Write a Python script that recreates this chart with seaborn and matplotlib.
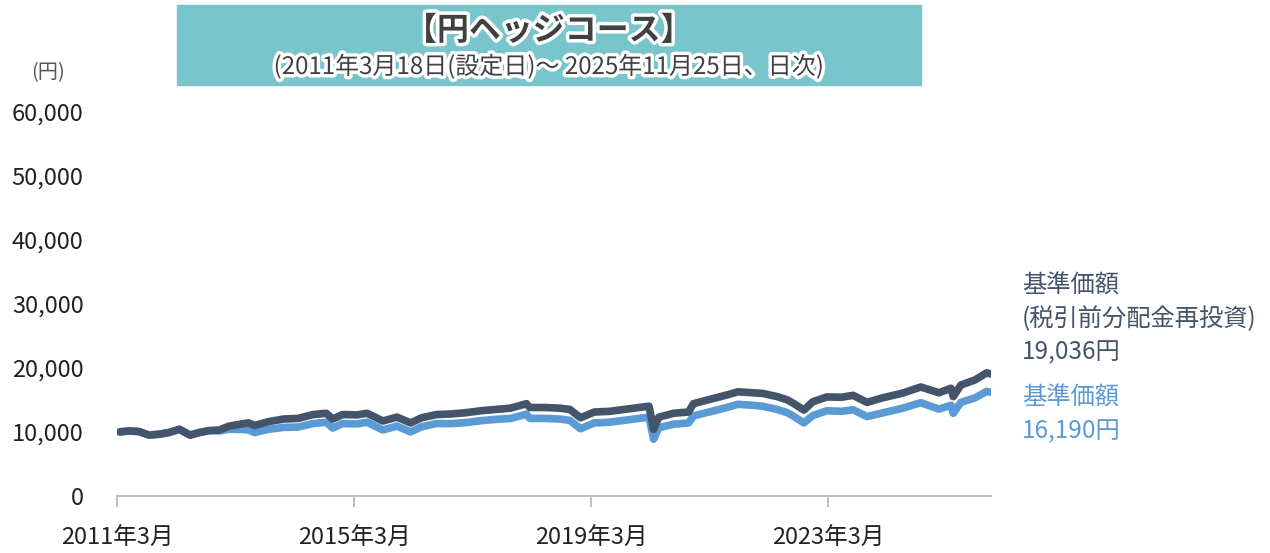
import pandas as pd
import numpy as np
import matplotlib.pyplot as plt
import matplotlib.patheffects as pe
import seaborn as sns

dates = ['2011-03-18', '2011-05-15', '2011-07-15', '2011-09-15', '2011-11-20', '2012-01-15',
         '2012-03-20', '2012-05-25', '2012-07-20', '2012-09-20', '2012-11-20', '2013-01-20',
         '2013-04-20', '2013-05-20', '2013-06-25', '2013-09-20', '2013-12-20', '2014-03-20',
         '2014-06-20', '2014-09-10', '2014-10-20', '2014-12-20', '2015-03-20', '2015-05-20',
         '2015-08-25', '2015-11-20', '2016-02-12', '2016-04-20', '2016-07-20', '2016-10-20',
         '2017-01-20', '2017-04-20', '2017-07-20', '2017-10-20', '2018-01-26', '2018-02-15',
         '2018-05-20', '2018-08-20', '2018-10-20', '2018-12-25', '2019-03-20', '2019-06-20',
         '2019-09-20', '2019-12-20', '2020-02-20', '2020-03-19', '2020-04-20', '2020-07-20',
         '2020-10-20', '2020-11-20', '2021-03-20', '2021-06-20', '2021-08-20', '2021-11-20',
         '2022-01-20', '2022-04-20', '2022-06-20', '2022-08-01', '2022-10-01', '2022-11-25',
         '2023-02-20', '2023-05-20', '2023-07-31', '2023-10-25', '2024-01-20', '2024-06-01',
         '2024-09-20', '2025-01-10', '2025-03-25', '2025-04-08', '2025-05-25', '2025-08-20',
         '2025-10-30', '2025-11-25']

# 基準価額(税引前分配金再投資)
nav_reinvest = [10000, 10150, 10050, 9500, 9650, 9900,
                10400, 9500, 9900, 10200, 10300, 10900,
                11300, 11400, 11000, 11600, 12000, 12100,
                12700, 12900, 12000, 12700, 12650, 12900,
                11700, 12300, 11400, 12200, 12700, 12800,
                13000, 13300, 13500, 13700, 14400, 13800,
                13800, 13700, 13500, 12200, 13100, 13200,
                13500, 13800, 14000, 10400, 12300, 12900,
                13100, 14400, 15200, 15800, 16250, 16100,
                16000, 15500, 15000, 14400, 13400, 14700,
                15450, 15400, 15700, 14600, 15250, 16050,
                17000, 16100, 16800, 15500, 17300, 18100,
                19200, 19036]

# 基準価額
nav = [10000, 10150, 10050, 9500, 9650, 9900,
       10400, 9500, 9900, 10200, 10150, 10430,
       10360, 10300, 9900, 10400, 10700, 10750,
       11300, 11500, 10600, 11300, 11250, 11500,
       10300, 10900, 10000, 10800, 11300, 11300,
       11450, 11750, 11950, 12100, 12750, 12100,
       12100, 12000, 11800, 10500, 11400, 11500,
       11800, 12100, 12300, 8850, 10650, 11200,
       11400, 12500, 13250, 13850, 14300, 14150,
       14000, 13500, 13000, 12400, 11400, 12550,
       13300, 13200, 13450, 12400, 12900, 13700,
       14550, 13550, 14150, 12900, 14600, 15300,
       16300, 16190]

tick_dates = ['2011-03-01', '2015-03-01', '2019-03-01', '2023-03-01']
tick_labels = ['2011年3月', '2015年3月', '2019年3月', '2023年3月']
y_ticks = [0, 10000, 20000, 30000, 40000, 50000, 60000]

dark = '#44546A'
light = '#5B9BD5'

df = pd.DataFrame({'date': pd.to_datetime(dates), 'reinvest': nav_reinvest, 'nav': nav})

sns.set_theme(style='white')
plt.rcParams['font.family'] = ['Noto Sans CJK JP', 'DejaVu Sans']

fig = plt.figure(figsize=(12.7, 5.53), dpi=100)
ax = fig.add_axes([0.0921, 0.103, 0.688, 0.696])

sns.lineplot(data=df, x='date', y='nav', color=light, linewidth=5.5, ax=ax)
sns.lineplot(data=df, x='date', y='reinvest', color=dark, linewidth=5.5, ax=ax)

ax.set_xlim(pd.Timestamp('2011-03-01'), pd.Timestamp('2025-11-25'))
ax.set_ylim(0, 60000)
ax.set_yticks(y_ticks)
ax.set_yticklabels([f'{v:,}' for v in y_ticks], fontsize=17, color='#222222')
ax.set_xticks(pd.to_datetime(tick_dates))
ax.set_xticklabels(tick_labels, fontsize=17, color='#222222')
ax.set_xlabel('')
ax.set_ylabel('')
for s in ['top', 'right', 'left']:
    ax.spines[s].set_visible(False)
ax.spines['bottom'].set_color('#BFBFBF')
ax.spines['bottom'].set_linewidth(1.5)
ax.tick_params(axis='x', bottom=True, direction='out', length=8, width=1.5, color='#BFBFBF', pad=14)
ax.tick_params(axis='y', left=False, pad=18)

# title box
fig.patches.append(plt.Rectangle((177 / 1270, 1 - 85 / 553), (921 - 177) / 1270, 80 / 553,
                                 transform=fig.transFigure, color='#78C6CC', zorder=0))
stroke = [pe.withStroke(linewidth=5, foreground='white')]
fig.text(549 / 1270, 1 - 31 / 553, '【円ヘッジコース】', ha='center', va='center',
         fontsize=23, fontweight='bold', color='#404040', path_effects=stroke)
fig.text(549 / 1270, 1 - 67 / 553, '(2011年3月18日(設定日)～ 2025年11月25日、日次)',
         ha='center', va='center', fontsize=17.3, color='#404040', path_effects=stroke)

fig.text(48 / 1270, 1 - 73 / 553, '(円)', ha='center', va='center', fontsize=14.5, color='#555555')

fig.text(1022 / 1270, 1 - 286 / 553, '基準価額', ha='left', va='center', fontsize=17.5, color=dark)
fig.text(1022 / 1270, 1 - 319 / 553, '(税引前分配金再投資)', ha='left', va='center', fontsize=17.5, color=dark)
fig.text(1022 / 1270, 1 - 352 / 553, f'{nav_reinvest[-1]:,}円', ha='left', va='center', fontsize=17.5, color=dark)
fig.text(1022 / 1270, 1 - 398 / 553, '基準価額', ha='left', va='center', fontsize=17.5, color=light)
fig.text(1022 / 1270, 1 - 431 / 553, f'{nav[-1]:,}円', ha='left', va='center', fontsize=17.5, color=light)

fig.savefig('out.png', dpi=100)
